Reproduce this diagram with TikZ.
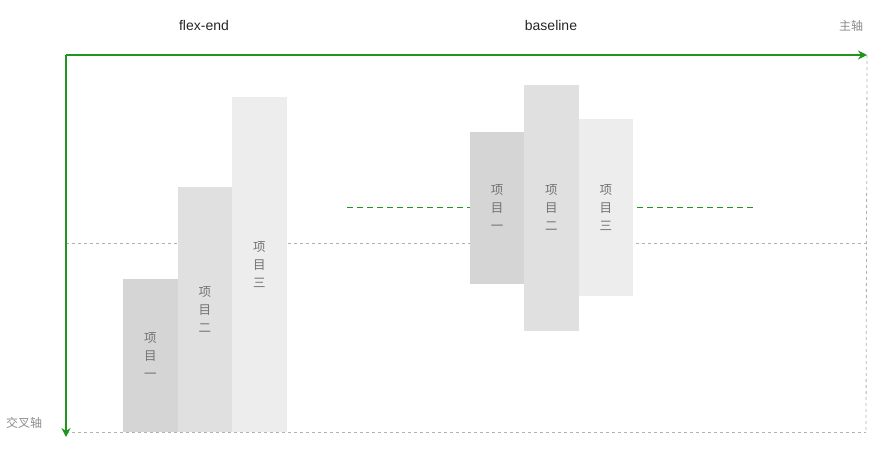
\documentclass[tikz,border=0pt]{standalone}
\usepackage{fontspec}
\setmainfont{Liberation Sans}
\newfontfamily\cjk{Noto Sans CJK SC}
\usepackage{xcolor}
\usepackage{tikz}
\usetikzlibrary{arrows.meta, positioning}

\definecolor{axisgreen}{RGB}{30,150,30}
\definecolor{itemone}{RGB}{213,213,213}
\definecolor{itemtwo}{RGB}{224,224,224}
\definecolor{itemthree}{RGB}{237,237,237}

\begin{document}
\begin{tikzpicture}[
  x=1pt, y=-1pt,
  item/.style={rectangle, inner sep=0pt, minimum width=54.5pt, align=center, text=black!55,
    font=\cjk\fontsize{12.5}{18}\selectfont},
  guide/.style={draw=black!30, dash pattern=on 3pt off 3pt, line width=0.8pt},
  axis/.style={draw=axisgreen, line width=1.3pt, -{Stealth[length=9pt, width=9pt]}},
  title/.style={font=\fontsize{14}{16}\selectfont, text=black!85},
  axislabel/.style={font=\cjk\fontsize{12}{14}\selectfont, text=black!45}
]
\useasboundingbox (0,0) rectangle (884,449);

% axes and guides
\coordinate (origin) at (66,55);
\coordinate (mainend) at (867,55);
\coordinate (crossend) at (66,437);
\coordinate (corner) at (866,432);
\coordinate (bottomleft) at (66,432);
\coordinate (midleft) at (66,243);
\coordinate (midright) at (866,243);
\draw[guide] (mainend) -- (corner);
\draw[guide] (bottomleft) -- (corner);
\draw[guide] (midleft) -- (midright);

% baseline
\coordinate (baseleft) at (347,207);
\coordinate (baseright) at (754,207);
\draw[draw=axisgreen, dash pattern=on 6pt off 4pt, line width=0.8pt] (baseleft) -- (baseright);

% flex-end
\node[item, fill=itemone, minimum height=153pt, anchor=south west] (fa) at (123,432) {项\\目\\一};
\node[item, fill=itemtwo, minimum height=245pt, anchor=south west] (fb) at ([xshift=-0.5pt]fa.south east) {项\\目\\二};
\node[item, fill=itemthree, minimum height=335pt, anchor=south west] (fc) at ([xshift=-0.5pt]fb.south east) {项\\目\\三};

% baseline
\node[item, fill=itemone, minimum height=152pt] (ba) at (497,208) {项\\目\\一};
\node[item, fill=itemtwo, minimum height=245pt, right=-0.5pt of ba] (bb) {项\\目\\二};
\node[item, fill=itemthree, minimum height=177pt, right=-0.5pt of bb] (bc) {项\\目\\三};

\draw[axis] (origin) -- (mainend);
\draw[axis] (origin) -- (crossend);

\node[title] (flexend) at (204,25) {flex-end};
\node[title] (baseline) at (551,25) {baseline};
\node[axislabel] (mainlabel) at (851,26) {主轴};
\node[axislabel] (crosslabel) at (24,423) {交叉轴};
\end{tikzpicture}
\end{document}
